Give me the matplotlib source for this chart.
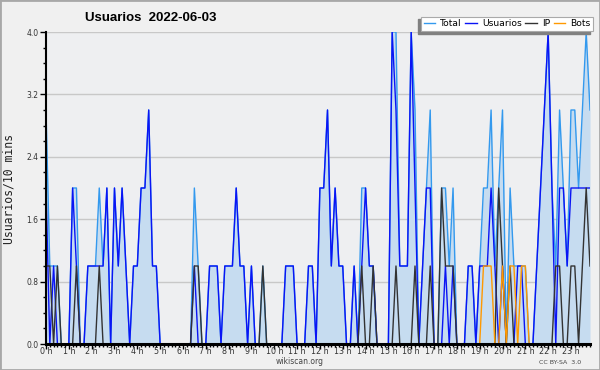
import numpy as np
import matplotlib.pyplot as plt
from matplotlib.patches import Rectangle
from matplotlib.lines import Line2D
from matplotlib.ticker import MultipleLocator

# Valores cada 10 minutos (144 puntos en el día)
horas = [f"{h} h" for h in range(24)]

total = [3, 1, 1, 1, 0, 0, 0, 2, 2, 0, 0, 1,
         1, 1, 2, 1, 2, 0, 2, 1, 2, 1, 0, 1,
         1, 2, 2, 3, 1, 1, 0, 0, 0, 0, 0, 0,
         0, 0, 0, 2, 1, 0, 0, 1, 1, 1, 0, 1,
         1, 1, 2, 1, 1, 0, 1, 0, 0, 1, 0, 0,
         0, 0, 0, 1, 1, 1, 0, 0, 0, 1, 1, 0,
         2, 2, 3, 1, 2, 1, 1, 0, 0, 1, 0, 2,
         2, 1, 1, 0, 0, 0, 0, 4, 4, 1, 1, 1,
         4, 3, 0, 1, 2, 3, 0, 0, 2, 2, 1, 2,
         0, 0, 0, 1, 1, 0, 1, 2, 2, 3, 1, 2,
         3, 0, 2, 1, 1, 1, 1, 0, 0, 1, 2, 3,
         4, 2, 1, 3, 2, 1, 3, 3, 2, 3, 4, 3]

usuarios = [2, 0, 1, 0, 0, 0, 0, 2, 1, 0, 0, 1,
            1, 1, 1, 1, 2, 0, 2, 1, 2, 1, 0, 1,
            1, 2, 2, 3, 1, 1, 0, 0, 0, 0, 0, 0,
            0, 0, 0, 1, 0, 0, 0, 1, 1, 1, 0, 1,
            1, 1, 2, 1, 1, 0, 1, 0, 0, 0, 0, 0,
            0, 0, 0, 1, 1, 1, 0, 0, 0, 1, 1, 0,
            2, 2, 3, 1, 2, 1, 1, 0, 0, 1, 0, 1,
            2, 1, 1, 0, 0, 0, 0, 4, 3, 1, 1, 1,
            4, 2, 0, 1, 2, 2, 0, 0, 0, 1, 0, 1,
            0, 0, 0, 1, 1, 0, 1, 1, 1, 2, 1, 0,
            1, 0, 0, 0, 1, 1, 0, 0, 0, 1, 2, 3,
            4, 2, 0, 2, 2, 1, 2, 2, 2, 2, 2, 2]

ip = [1, 1, 0, 1, 0, 0, 0, 0, 1, 0, 0, 0,
      0, 0, 1, 0, 0, 0, 0, 0, 0, 0, 0, 0,
      0, 0, 0, 0, 0, 0, 0, 0, 0, 0, 0, 0,
      0, 0, 0, 1, 1, 0, 0, 0, 0, 0, 0, 0,
      0, 0, 0, 0, 0, 0, 0, 0, 0, 1, 0, 0,
      0, 0, 0, 0, 0, 0, 0, 0, 0, 0, 0, 0,
      0, 0, 0, 0, 0, 0, 0, 0, 0, 0, 0, 1,
      0, 0, 1, 0, 0, 0, 0, 0, 1, 0, 0, 0,
      0, 1, 0, 0, 0, 1, 0, 0, 2, 1, 1, 1,
      0, 0, 0, 0, 0, 0, 0, 0, 0, 0, 0, 2,
      1, 0, 1, 0, 0, 0, 0, 0, 0, 0, 0, 0,
      0, 0, 1, 1, 0, 0, 1, 1, 0, 1, 2, 1]

bots = [0] * 108 + [0, 0, 0, 0, 0, 0, 0, 1, 1, 1, 0, 0,
                    1, 0, 1, 1, 0, 1, 1, 0, 0, 0, 0, 0,
                    0, 0, 0, 0, 0, 0, 0, 0, 0, 0, 0, 0]

fig = plt.figure(figsize=(6, 3.7), dpi=100, facecolor='#f0f0f0')
ax = fig.add_axes([46/600, 26/370, 544/600, 312/370], facecolor='#eeeff1')

x = np.arange(len(total))
ax.fill_between(x, total, color='#c6dcf0', lw=0, zorder=2)
ax.plot(x, total, color='#3399ee', lw=1.0, zorder=3)
ax.plot(x, usuarios, color='#0a14f5', lw=1.0, zorder=4)
ax.plot(x, ip, color='#333333', lw=1.0, zorder=5)
ax.plot(x, bots, color='#ff9900', lw=1.0, zorder=6)

ax.set_xlim(0, 143)
ax.set_ylim(0, 4)
ax.set_xticks(np.arange(0, 144, 6))
ax.set_xticklabels(horas)
ax.xaxis.set_minor_locator(MultipleLocator(1))
yt = np.arange(0, 4.01, 0.8)
ax.set_yticks(yt)
ax.set_yticklabels([f"{v:.1f}" for v in yt])
ax.yaxis.set_minor_locator(MultipleLocator(0.2))
ax.grid(axis='y', color='#c8c8c8', lw=1, zorder=1)
ax.set_axisbelow(True)

for s in ['top', 'right']:
    ax.spines[s].set_visible(False)
ax.spines['left'].set_linewidth(1.5)
ax.spines['bottom'].set_linewidth(2.2)
for s in ['left', 'bottom']:
    ax.spines[s].set_color('black')
    ax.spines[s].set_zorder(7)

ax.tick_params(axis='y', which='major', length=4, width=1, labelsize=5.5, pad=1.5, labelcolor='#333333')
ax.tick_params(axis='y', which='minor', length=2.2, width=1)
ax.tick_params(axis='x', which='major', length=3.5, width=1, labelsize=5.8, pad=-1.2, labelcolor='#333333')
ax.tick_params(axis='x', which='minor', length=2.5, width=1)

fig.text(85/600, 1 - 21/370, 'Usuarios  2022-06-03', family='Liberation Sans',
         fontweight='bold', fontsize=9.5, va='baseline', ha='left')
fig.text(9/600, 1 - 189/370, 'Usuarios/10 mins', rotation=90, family='DejaVu Sans Mono',
         fontsize=8.3, va='center', ha='center', color='#222222')
fig.text(0.5, 1 - 361/370, 'wikiscan.org', fontsize=5.5, ha='center', va='center', color='#444444')
fig.text(581/600, 1 - 362/370, 'CC BY-SA  3.0', fontsize=4.5, ha='right', va='center', color='#444444')

handles = [Line2D([], [], color=c, lw=1.0) for c in ['#3399ee', '#0a14f5', '#333333', '#ff9900']]
leg = fig.legend(handles, ['Total', 'Usuarios', 'IP', 'Bots'], ncol=4, loc='upper right',
                 bbox_to_anchor=(593/600, 1 - 16.5/370), fontsize=6.6, frameon=True,
                 fancybox=False, edgecolor='#aaaaaa', framealpha=1, handlelength=1.3,
                 handletextpad=0.5, columnspacing=0.4, borderpad=0.3, borderaxespad=0)
leg.get_frame().set_linewidth(0.8)
leg.set_zorder(10)

# sombra del recuadro de la leyenda (hacia abajo a la izquierda)
fig.canvas.draw()
bb = leg.get_window_extent()
sh = Rectangle(((bb.x0 - 3) / 600, (bb.y0 - 3) / 370), bb.width / 600, bb.height / 370,
               transform=fig.transFigure, color='#808080', zorder=9)
fig.add_artist(sh)

fig.add_artist(Rectangle((0, 0), 1, 1, transform=fig.transFigure, fill=False,
                         ec='#a8a8a8', lw=2))

fig.savefig('out.png', dpi=100, facecolor=fig.get_facecolor())
